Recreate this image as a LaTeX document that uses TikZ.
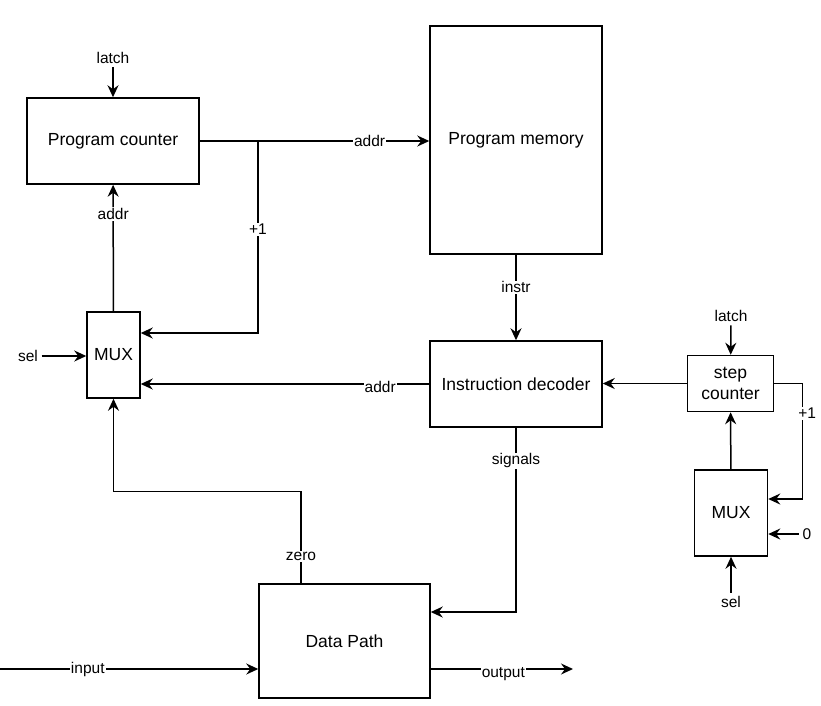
\documentclass[tikz,border=0pt]{standalone}
\usepackage{fontspec}
\setmainfont{Liberation Sans}
\usetikzlibrary{arrows.meta}

\begin{document}
\begin{tikzpicture}[
  x=1pt, y=-1pt,
  line width=1.5pt,
  >={Stealth[length=12pt,width=11pt,inset=4pt]},
  block/.style={draw, rectangle, inner sep=2pt, align=center,
    font=\fontsize{17.5}{20.5}\selectfont},
  lbl/.style={fill=white, inner sep=1pt, font=\fontsize{15.5}{18}\selectfont},
  pin/.style={inner sep=3pt, font=\fontsize{15.5}{18}\selectfont}
]
  \useasboundingbox (0,0) rectangle (821,705);

  % blocks
  \node[block, minimum width=172pt, minimum height=86pt] (pc) at (113,141) {Program counter};
  \node[block, minimum width=172pt, minimum height=228pt] (pmem) at (516,140) {Program memory};
  \node[block, minimum width=172pt, minimum height=86pt] (dec) at (516,384) {Instruction decoder};
  \node[block, minimum width=53pt, minimum height=86pt] (mux) at (113.5,355) {MUX};
  \node[block, minimum width=171pt, minimum height=114pt] (dp) at (344.5,641) {Data Path};
  \node[block, minimum width=86pt, minimum height=56pt] (step) at (730.5,383.5) {step\\counter};
  \node[block, minimum width=73pt, minimum height=86pt] (smux) at (731,513) {MUX};

  % free inputs
  \node[pin] (pclatch) at (113,58) {latch};
  \node[pin] (sel) at (28,356) {sel};
  \node[pin] (slatch) at (731,316) {latch};
  \node[pin] (ssel) at (731,602) {sel};
  \node[pin] (zin) at (807,534) {0};
  \coordinate (in) at (0,669);
  \coordinate (out) at (573,669);
  \coordinate (br) at (258,141);

  % program counter loop
  \draw[->] (pclatch) -- (pc);
  \draw[->] (pc.east) -- node[lbl, pos=0.74] {addr} (pc.east -| pmem.west);
  \draw[->] (br) |- node[lbl, pos=0.23] {+1} ([yshift=22pt]mux.east);
  \draw[->] (mux) -- node[lbl, pos=0.77] {addr} (pc);
  \draw[->] (sel) -- (sel -| mux.west);

  % decoder
  \draw[->] (pmem) -- node[lbl, pos=0.38] {instr} (dec);
  \draw[->] (dec.west) -- node[lbl, pos=0.17, yshift=-3pt] {addr} (mux.east |- dec.west);
  \draw[->] (dec.south) |- node[lbl, pos=0.09] {signals} ([yshift=29pt]dp.east);

  % data path
  \draw[->] ([xshift=-43.5pt]dp.north) -- node[lbl, pos=0.29] {zero} ++(0,-92) -| (mux.south);
  \draw[->] (in) -- node[lbl, pos=0.34] {input} (dp.west |- in);
  \draw[->] (dp.east |- out) -- node[lbl, pos=0.51, yshift=-5pt] {output} (out);

  % step counter
  \draw[->] (slatch) -- (step);
  \draw[->] (step.west) -- (dec.east |- step.west);
  \draw[->] (step.east) -- ++(28,0) |- node[lbl, pos=0.13, xshift=5pt] {+1} ([yshift=14pt]smux.east);
  \draw[->] (smux) -- (step);
  \draw[->] (zin) -- (zin -| smux.east);
  \draw[->] (ssel) -- (smux);
\end{tikzpicture}
\end{document}
